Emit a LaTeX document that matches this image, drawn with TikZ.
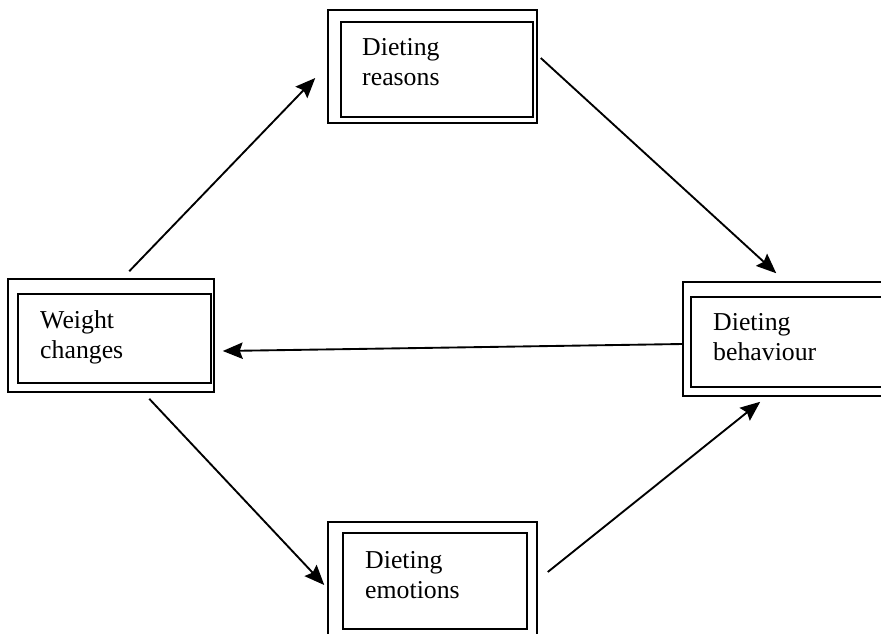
\documentclass[tikz,border=0pt]{standalone}
\usepackage{fontspec}
\setmainfont{Liberation Serif}
\usetikzlibrary{arrows.meta, positioning, fit, calc}

\tikzstyle{outerbox} = [
    rectangle,
    draw=black,
    line width=1.3pt,
    inner sep=0pt
]
\tikzstyle{innerbox} = [
    rectangle,
    draw=black,
    line width=1.6pt,
    inner sep=0pt
]
\tikzstyle{boxtext} = [
    anchor=base west,
    align=left,
    inner sep=0pt,
    font=\fontsize{22}{25.6}\selectfont
]
\tikzstyle{arrow} = [
    -{Stealth[length=17pt, width=14pt, inset=2.5pt]},
    line width=1.6pt,
    color=black
]

\begin{document}
\begin{tikzpicture}[x=0.03cm, y=-0.03cm]

\useasboundingbox (0,0) rectangle (881,633);

% Box 1: Dieting reasons
\node[outerbox, fit={(328,10) (537,123)}] (reasons) {};
\node[innerbox, fit={(341,22) (533,117)}] (reasonsin) {};
\node[boxtext] (reasonstext) at (362,85) {Dieting\\reasons};

% Box 2: Weight changes
\node[outerbox, fit={(8,279) (214,392)}] (weight) {};
\node[innerbox, fit={(18,294) (211,383)}] (weightin) {};
\node[boxtext] (weighttext) at (40,358) {Weight\\changes};

% Box 3: Dieting behaviour
\node[outerbox, fit={(683,282) (900,396)}] (behaviour) {};
\node[innerbox, fit={(691,297) (892,387)}] (behaviourin) {};
\node[boxtext] (behaviourtext) at (713,360) {Dieting\\behaviour};

% Box 4: Dieting emotions
\node[outerbox, fit={(328,522) (537,645)}] (emotions) {};
\node[innerbox, fit={(343,533) (527,629)}] (emotionsin) {};
\node[boxtext] (emotionstext) at (365,598) {Dieting\\emotions};

% Arrow 1
\draw[arrow] ($(weight.north west)+(122,-7)$) -- ($(reasons.west)+(-12,11.5)$);

% Arrow 2
\draw[arrow] ($(reasons.east)+(3,-8.5)$) -- ($(behaviour.north west)+(94,-8)$);

% Arrow 3
\draw[arrow] ($(behaviour.west)+(0,5)$) -- ($(weight.east)+(8,15.5)$);

% Arrow 4
\draw[arrow] ($(weight.south west)+(142,6)$) -- ($(emotions.west)+(-3,1.5)$);

% Arrow 5
\draw[arrow] ($(emotions.east)+(10,-11.5)$) -- ($(behaviour.south west)+(78,5)$);

\end{tikzpicture}
\end{document}
